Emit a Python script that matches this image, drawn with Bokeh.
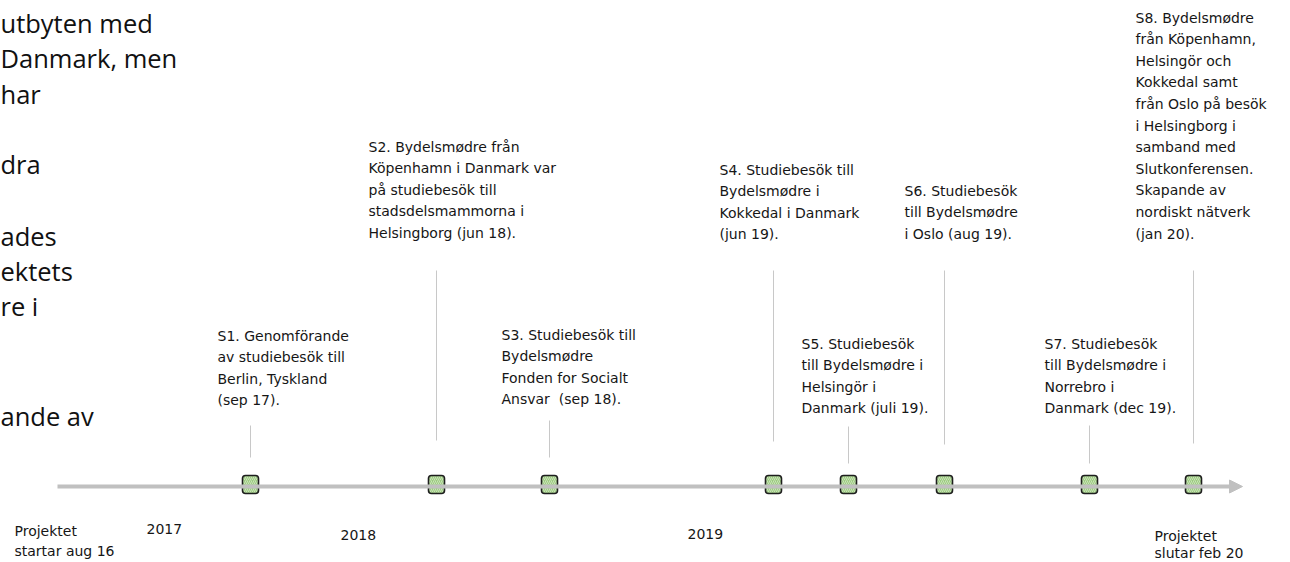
from bokeh.plotting import figure
from bokeh.models import Range1d, Arrow, NormalHead
from bokeh.core.properties import value
from bokeh.embed import file_html
from bokeh.resources import INLINE

# ---------------- data ----------------
event_ids = ["S1", "S2", "S3", "S4", "S5", "S6", "S7", "S8"]
event_dates = ["sep 17", "jun 18", "sep 18", "jun 19", "juli 19", "aug 19", "dec 19", "jan 20"]
# position of each event along the timeline
event_pos = [250, 436, 549, 773, 848, 944, 1089, 1193]
event_texts = [
    ["S1. Genomförande", "av studiebesök till", "Berlin, Tyskland", "(sep 17)."],
    ["S2. Bydelsmødre från", "Köpenhamn i Danmark var", "på studiebesök till",
     "stadsdelsmammorna i", "Helsingborg (jun 18)."],
    ["S3. Studiebesök till", "Bydelsmødre", "Fonden for Socialt", "Ansvar\u00a0 (sep 18)."],
    ["S4. Studiebesök till", "Bydelsmødre i", "Kokkedal i Danmark", "(jun 19)."],
    ["S5. Studiebesök", "till Bydelsmødre i", "Helsingör i", "Danmark (juli 19)."],
    ["S6. Studiebesök", "till Bydelsmødre", "i Oslo (aug 19)."],
    ["S7. Studiebesök", "till Bydelsmødre i", "Norrebro i", "Danmark (dec 19)."],
    ["S8. Bydelsmødre", "från Köpenhamn,", "Helsingör och", "Kokkedal samt",
     "från Oslo på besök", "i Helsingborg i", "samband med", "Slutkonferensen.",
     "Skapande av", "nordiskt nätverk", "(jan 20)."],
]
year_labels = ["2017", "2018", "2019"]
year_pos = [146, 340, 687]

start_label = ["Projektet", "startar aug 16"]
end_label = ["Projektet", "slutar feb 20"]

side_text = ["utbyten med", "Danmark, men", "har", "dra", "ades", "ektets", "re i", "ande av"]

# ---------------- layout (screen-like coordinates) ----------------
W, H = 1290, 562
TL_Y = 486          # timeline line
MK_Y = 484          # marker centre
LINE_H = 21.6       # label line spacing
label_anchor = [(217, 335), (368, 146), (501, 334), (719, 169),
                (801, 343), (904, 190), (1044, 343), (1135, 17)]
conn_span = [(425, 457), (270, 440), (420, 457), (270, 441),
             (426, 463), (270, 444), (425, 463), (270, 443)]
year_y = [528, 534, 533]
side_y = [22, 57, 93, 163, 235, 270, 305, 415]
side_x = [0, 0, 0, 0, 0, 0, 0, 0]

COMIC = value("DejaVu Sans")
TXT = "#161616"

p = figure(width=W, height=H, output_backend="svg", toolbar_location=None,
           x_range=Range1d(0, W), y_range=Range1d(H, 0),
           min_border=0, outline_line_color=None, background_fill_color="white")
p.axis.visible = False
p.grid.visible = False

# side text (cut-off slide text on left)
p.text(x=side_x, y=side_y, text=side_text, text_font=value("Open Sans"),
       text_font_size="25.5px", text_color="#111111", text_baseline="middle")

# connectors
p.segment(x0=event_pos, x1=event_pos,
          y0=[c[0] for c in conn_span], y1=[c[1] for c in conn_span],
          line_color="#c8c8c8", line_width=1)

# timeline with arrow
p.add_layout(Arrow(end=NormalHead(size=13, fill_color="#c0c0c0", line_color="#c0c0c0"),
                   x_start=57, y_start=TL_Y, x_end=1242, y_end=TL_Y,
                   line_color="#c0c0c0", line_width=4))

# markers
p.rect(x=event_pos, y=[MK_Y] * len(event_pos), width=16, height=18,
       width_units="screen", height_units="screen", border_radius=3,
       fill_color="#9ccb7f", line_color="#1e1e1e", line_width=1.6,
       hatch_pattern="right_diagonal_line", hatch_color="white",
       hatch_alpha=0.45, hatch_scale=4, hatch_weight=1)

# event labels
lx, ly, lt = [], [], []
for (ax, ay), lines in zip(label_anchor, event_texts):
    for i, t in enumerate(lines):
        lx.append(ax)
        ly.append(ay + i * LINE_H)
        lt.append(t)
p.text(x=lx, y=ly, text=lt, text_font=COMIC, text_font_size="14px",
       text_color=TXT, text_baseline="middle")

# years
p.text(x=year_pos, y=year_y, text=year_labels, text_font=COMIC,
       text_font_size="14px", text_color=TXT, text_baseline="middle")

# start / end labels
p.text(x=[14, 14], y=[530, 550], text=start_label, text_font=COMIC,
       text_font_size="14px", text_color=TXT, text_baseline="middle")
p.text(x=[1154, 1154], y=[535, 552], text=end_label, text_font=COMIC,
       text_font_size="14px", text_color=TXT, text_baseline="middle")

open("out.html", "w").write(file_html(p, INLINE))
